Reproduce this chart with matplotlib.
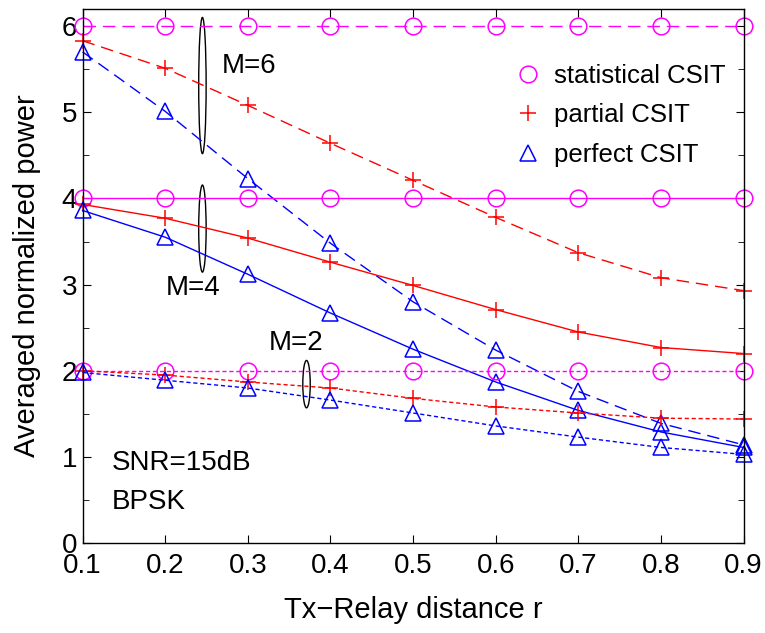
import matplotlib
matplotlib.use("Agg")
import matplotlib.pyplot as plt
from matplotlib.lines import Line2D
from matplotlib.patches import Ellipse

plt.rcParams['font.family'] = ['Liberation Sans', 'DejaVu Sans']

r = [0.1, 0.2, 0.3, 0.4, 0.5, 0.6, 0.7, 0.8, 0.9]

stat_M6 = [6, 6, 6, 6, 6, 6, 6, 6, 6]
partial_M6 = [5.83, 5.51, 5.08, 4.64, 4.21, 3.78, 3.37, 3.08, 2.93]
perfect_M6 = [5.70, 5.01, 4.23, 3.48, 2.80, 2.24, 1.76, 1.39, 1.14]

stat_M4 = [4, 4, 4, 4, 4, 4, 4, 4, 4]
partial_M4 = [3.93, 3.77, 3.54, 3.26, 2.99, 2.71, 2.45, 2.27, 2.20]
perfect_M4 = [3.86, 3.55, 3.12, 2.67, 2.25, 1.87, 1.54, 1.29, 1.11]

stat_M2 = [2, 2, 2, 2, 2, 2, 2, 2, 2]
partial_M2 = [2.00, 1.95, 1.87, 1.80, 1.68, 1.58, 1.51, 1.45, 1.44]
perfect_M2 = [1.98, 1.89, 1.80, 1.66, 1.51, 1.36, 1.23, 1.11, 1.03]

legend_labels = ['statistical CSIT', 'partial CSIT', 'perfect CSIT']
x_ticklabels = ['0.1', '0.2', '0.3', '0.4', '0.5', '0.6', '0.7', '0.8', '0.9']

fig = plt.figure(figsize=(7.65, 6.33), dpi=100)
ax = fig.add_axes([0.108, 0.142, 0.864, 0.844])

MAG, RED, BLUE = '#FF00FF', '#FF0000', '#0000FF'
ls_M6 = (0, (9, 5))
ls_M4 = '-'
ls_M2 = (0, (3, 2))

circ = dict(marker='o', ms=12, mfc='none', mew=1.1)
plus = dict(marker='+', ms=12, mew=1.1)
tri = dict(marker='^', ms=11, mfc='none', mew=1.1)

for s, p, q, ls in [(stat_M6, partial_M6, perfect_M6, ls_M6),
                    (stat_M4, partial_M4, perfect_M4, ls_M4),
                    (stat_M2, partial_M2, perfect_M2, ls_M2)]:
    ax.plot(r, s, color=MAG, ls=ls, lw=1.0, clip_on=False, **circ)
    ax.plot(r, p, color=RED, ls=ls, lw=1.0, clip_on=False, **plus)
    ax.plot(r, q, color=BLUE, ls=ls, lw=1.0, clip_on=False, **tri)

# ellipses grouping
ax.add_patch(Ellipse((0.245, 5.31), 0.009, 1.58, fill=False, ec='black', lw=1.0, clip_on=False))
ax.add_patch(Ellipse((0.245, 3.65), 0.009, 1.01, fill=False, ec='black', lw=1.0))
ax.add_patch(Ellipse((0.371, 1.845), 0.009, 0.55, fill=False, ec='black', lw=1.0))

fs = 20
ax.text(0.268, 5.54, 'M=6', fontsize=fs, va='center', ha='left')
ax.text(0.201, 2.96, 'M=4', fontsize=fs, va='center', ha='left')
ax.text(0.325, 2.32, 'M=2', fontsize=fs, va='center', ha='left')
ax.text(0.135, 0.93, 'SNR=15dB', fontsize=fs, va='center', ha='left')
ax.text(0.135, 0.48, 'BPSK', fontsize=fs, va='center', ha='left')

handles = [Line2D([], [], color=MAG, ls='none', **circ),
           Line2D([], [], color=RED, ls='none', **plus),
           Line2D([], [], color=BLUE, ls='none', **tri)]
ax.legend(handles, legend_labels, loc='upper right', bbox_to_anchor=(1.0, 0.931),
          frameon=False, fontsize=18.5, handlelength=1.0, handletextpad=0.5,
          labelspacing=0.6, borderpad=0.2)

ax.set_xlim(0.1, 0.9)
ax.set_ylim(0, 6.2)
ax.set_xticks(r)
ax.set_xticklabels(x_ticklabels)
ax.set_yticks([0, 1, 2, 3, 4, 5, 6])
ax.set_yticks([0.5, 1.5, 2.5, 3.5, 4.5, 5.5], minor=True)
ax.tick_params(which='both', direction='in', top=True, right=True, labelsize=20)
ax.tick_params(axis='x', pad=7)
ax.tick_params(axis='y', pad=4)
ax.tick_params(which='major', length=6)
ax.tick_params(which='minor', length=4)
for sp in ax.spines.values():
    sp.set_linewidth(1.0)

ax.set_xlabel('Tx\u2212Relay distance r', fontsize=21, labelpad=12)
ax.set_ylabel('Averaged normalized power', fontsize=21, labelpad=15)

fig.savefig('out.png', dpi=100)
